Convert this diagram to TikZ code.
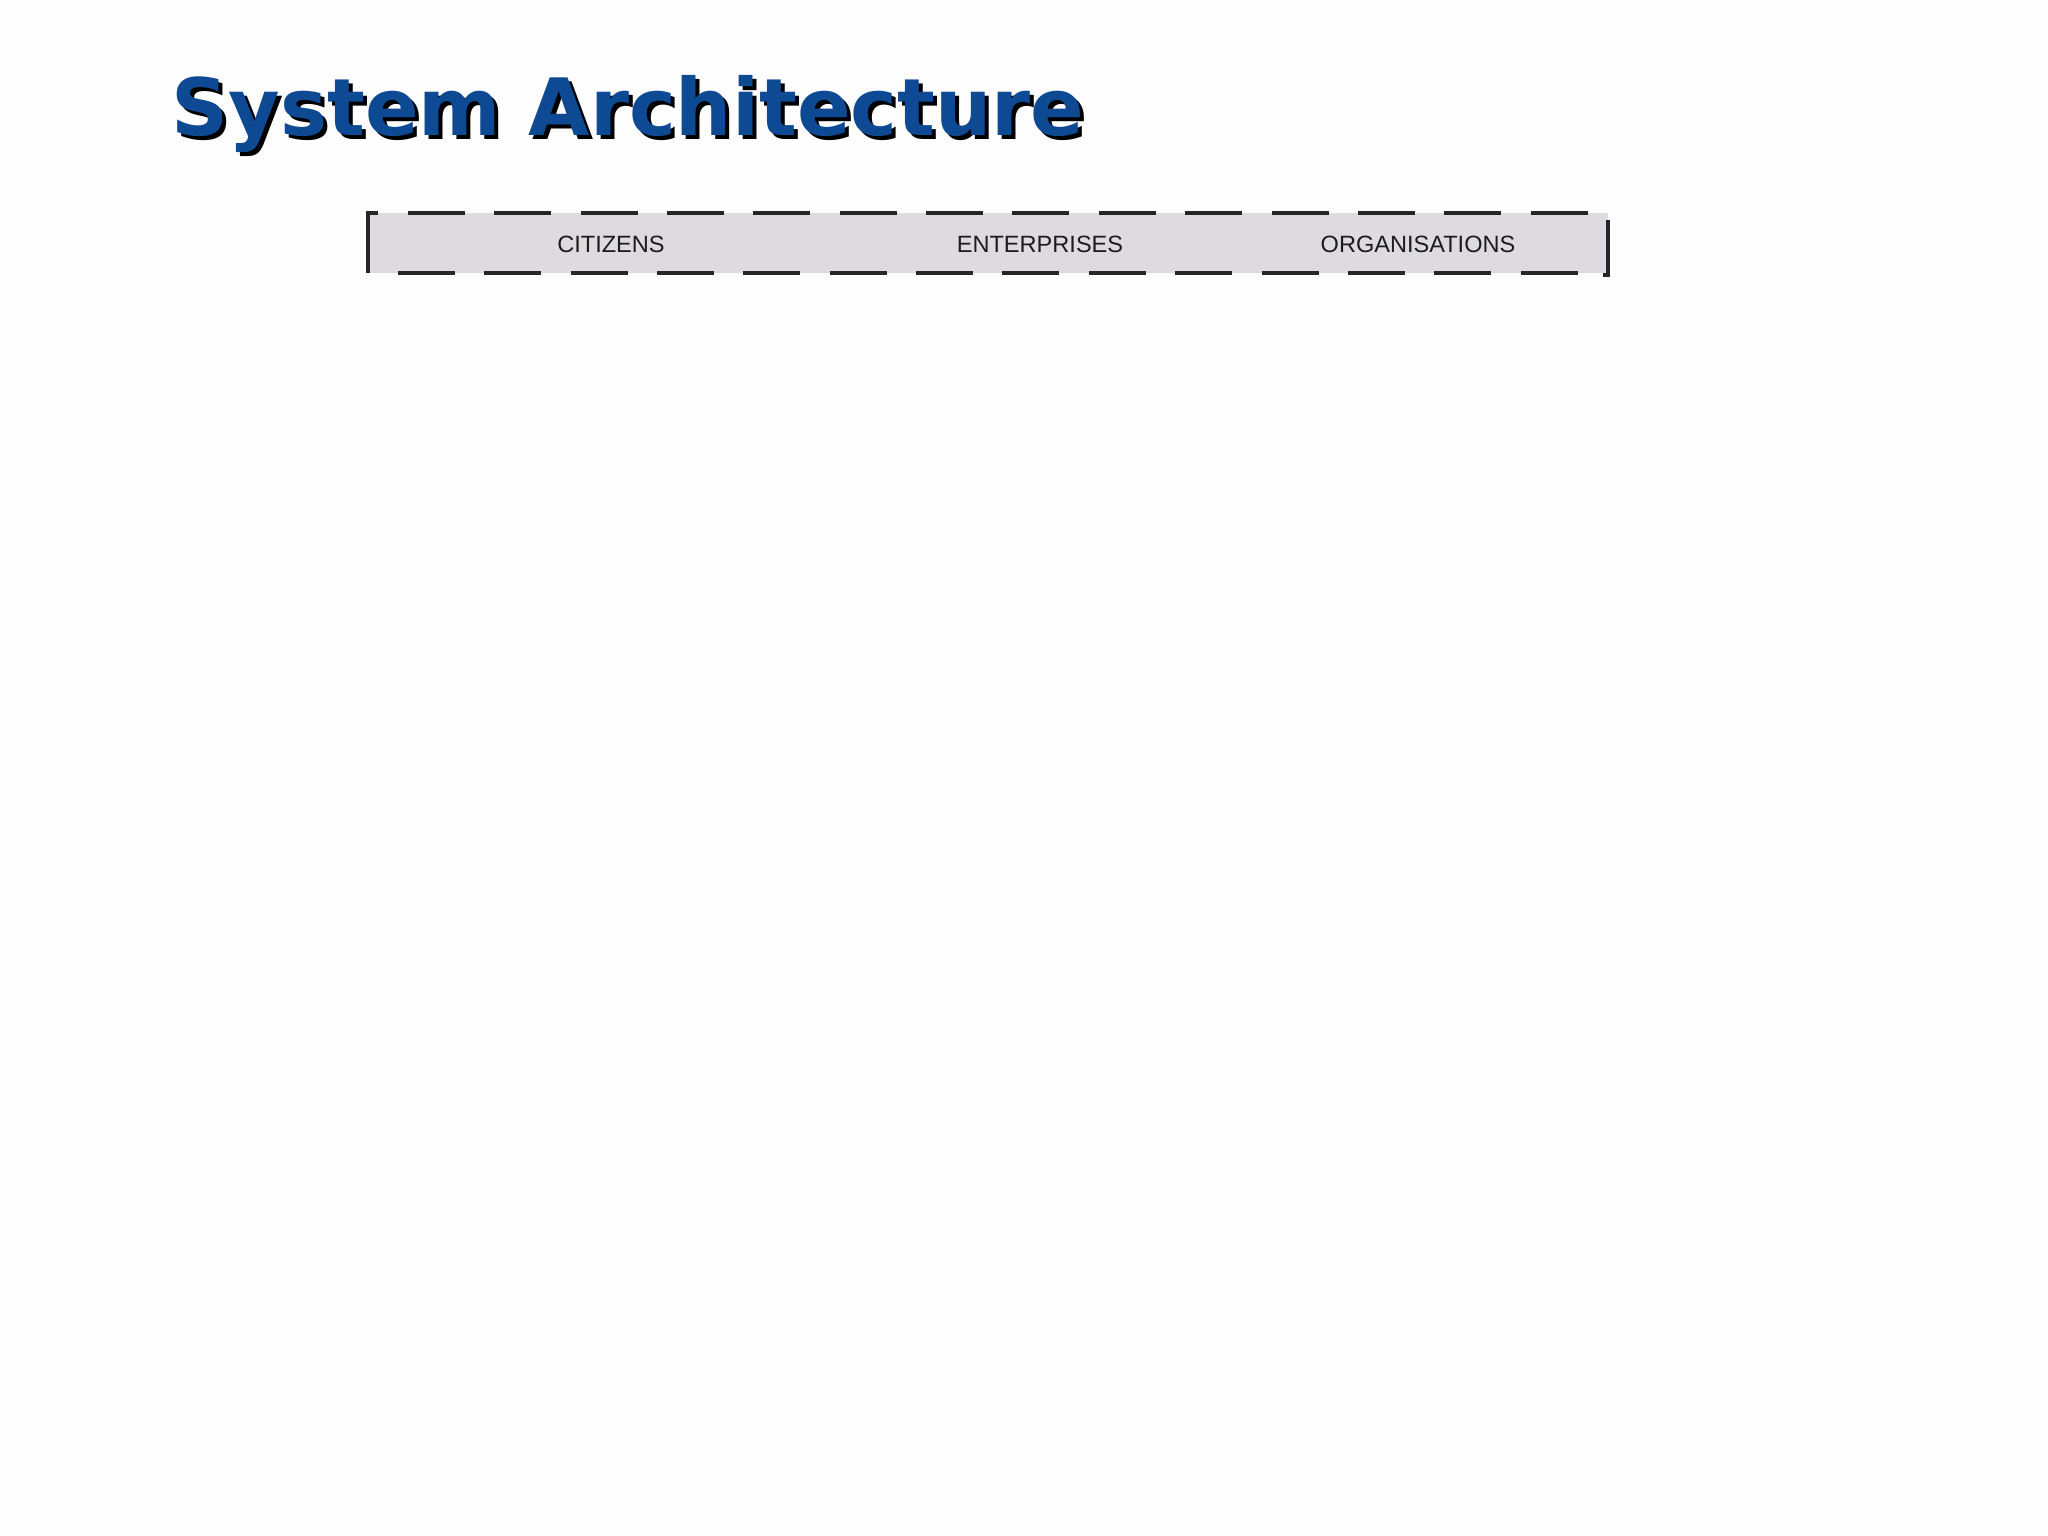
\documentclass[tikz,border=0pt]{standalone}
\usepackage{fontspec}
\setmainfont{Liberation Sans}
\newfontfamily\titlefont{DejaVu Sans}[BoldFont={DejaVu Sans Bold}]
\definecolor{titleblue}{RGB}{14,74,148}
\definecolor{barfill}{RGB}{221,219,223}
\definecolor{bartext}{RGB}{28,28,28}
\definecolor{pagebg}{RGB}{253,253,253}
\tikzset{
  titletext/.style={inner sep=0pt, anchor=base west, font=\titlefont\bfseries\fontsize{22.5pt}{26pt}\selectfont},
  barlabel/.style={inner sep=0pt, text=bartext, font=\fontsize{6.7pt}{8pt}\selectfont},
  bardash/.style={line width=0.9pt, dash pattern=on 0.57cm off 0.293cm, color=black!85},
  barside/.style={line width=0.9pt, color=black!85},
}
\begin{document}
\begin{tikzpicture}[x=0.01cm,y=-0.01cm]
\useasboundingbox (0,0) rectangle (2048,1536);
\fill[pagebg] (0,0) rectangle (2048,1536);
% title with shadow
\node[titletext, text=black] (titleshadow) at (175,139) {System Architecture};
\node[titletext, text=titleblue] (title) at (171,135) {System Architecture};
% bar
\fill[barfill] (368,213) rectangle (1608,273);
\coordinate (tl) at (368,213);
\coordinate (bl) at (368,273);
\coordinate (tr) at (1608,220);
\coordinate (br) at (1608,275);
\draw[bardash] (408,213) -- (1600,213);
\draw[bardash] (398,273) -- (1600,273);
\draw[barside] (378,213) -- (tl) -- (bl);
\draw[barside] (tr) -- (br) -- (1603,275);
\node[barlabel] (citizens) at (611,244) {CITIZENS};
\node[barlabel] (enterprises) at (1040,244) {ENTERPRISES};
\node[barlabel] (organisations) at (1418,244) {ORGANISATIONS};
\end{tikzpicture}
\end{document}
